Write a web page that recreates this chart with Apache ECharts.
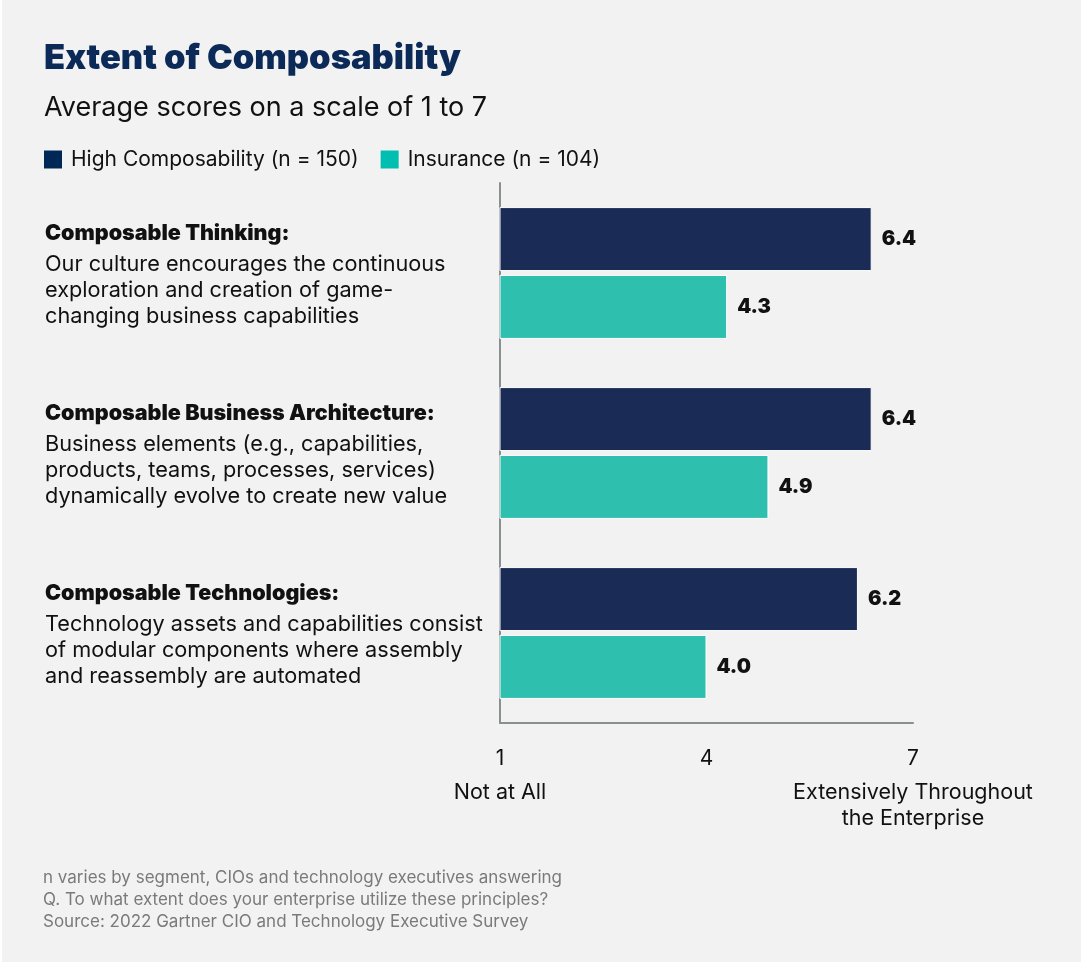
<!DOCTYPE html>
<html>
<head>
<meta charset="utf-8">
<script src="https://cdn.jsdelivr.net/npm/echarts@6/dist/echarts.min.js"></script>
<style>
  html, body { margin: 0; padding: 0; background: #ffffff; }
  #chart { position: absolute; left: 2px; top: 0; width: 1079px; height: 962px; background: #f2f2f2; }
</style>
</head>
<body>
<div id="chart"></div>
<script>
// Principles (category headings and their descriptions)
const headings = [
  'Composable Thinking:',
  'Composable Business Architecture:',
  'Composable Technologies:'
];
const descriptions = [
  ['Our culture encourages the continuous', 'exploration and creation of game-', 'changing business capabilities'],
  ['Business elements (e.g., capabilities,', 'products, teams, processes, services)', 'dynamically evolve to create new value'],
  ['Technology assets and capabilities consist', 'of modular components where assembly', 'and reassembly are automated']
];

// Average scores (1–7 scale)
const seriesNames = ['High Composability (n = 150)', 'Insurance (n = 104)'];
const highComposability = [6.4, 6.4, 6.2];
const insurance = [4.3, 4.9, 4.0];

// Scale ticks and their anchor descriptions
const tickValues = [1, 4, 7];
const tickNotes = { 1: ['Not at All'], 4: [], 7: ['Extensively Throughout', 'the Enterprise'] };

const footnotes = [
  'n varies by segment, CIOs and technology executives answering',
  'Q. To what extent does your enterprise utilize these principles?',
  'Source: 2022 Gartner CIO and Technology Executive Survey'
];

const FONT = 'Inter, "Noto Sans", sans-serif';
const NAVY = '#1a2b55';
const TEAL = '#2fbfae';

const chart = echarts.init(document.getElementById('chart'));

chart.setOption({
  backgroundColor: '#f2f2f2',
  textStyle: { fontFamily: FONT },
  title: [
    {
      text: 'Extent of Composability',
      left: 37, top: 36,
      textStyle: { fontFamily: FONT, fontSize: 34.5, fontWeight: 900, color: '#0c2a58' }
    },
    {
      text: 'Average scores on a scale of 1 to 7',
      left: 37, top: 89,
      textStyle: { fontFamily: FONT, fontSize: 27, fontWeight: 400, color: '#111111' }
    },
    {
      text: footnotes.join('\n'),
      left: 36, top: 862,
      textStyle: { fontFamily: FONT, fontSize: 17, fontWeight: 400, color: '#7a7a7a', lineHeight: 22 }
    }
  ],
  legend: {
    left: 37, top: 144,
    icon: 'rect',
    itemWidth: 18, itemHeight: 18,
    itemGap: 22,
    textStyle: { fontFamily: FONT, fontSize: 21, color: '#111111', padding: [0, 0, 0, 4] },
    data: [
      { name: seriesNames[0], itemStyle: { color: '#002856', borderWidth: 0 } },
      { name: seriesNames[1], itemStyle: { color: '#00bfb0', borderWidth: 0 } }
    ]
  },
  grid: { left: 498, right: 168, top: 183, bottom: 239 },
  xAxis: {
    type: 'value',
    min: 1, max: 7, interval: 3,
    splitLine: { show: false },
    axisTick: { show: false },
    axisLine: { show: true, lineStyle: { color: '#8a8f8f', width: 2 } },
    axisLabel: {
      margin: 15,
      formatter: function (v) {
        const notes = tickNotes[v] || [];
        return ['{n|' + v + '}'].concat(notes.map(s => '{d|' + s + '}')).join('\n');
      },
      rich: {
        n: { fontFamily: FONT, fontSize: 21, color: '#111111', lineHeight: 42, align: 'center' },
        d: { fontFamily: FONT, fontSize: 21.5, color: '#111111', lineHeight: 26, align: 'center' }
      }
    }
  },
  yAxis: {
    type: 'category',
    inverse: true,
    data: headings,
    axisTick: { show: false },
    axisLine: { show: true, lineStyle: { color: '#8a8f8f', width: 2 } },
    axisLabel: {
      align: 'left',
      margin: 455,
      formatter: function (h, i) {
        return ['{h|' + h + '}'].concat(descriptions[i].map(s => '{d|' + s + '}')).join('\n');
      },
      rich: {
        h: { fontFamily: FONT, fontSize: 21.5, fontWeight: 900, color: '#111111', lineHeight: 34 },
        d: { fontFamily: FONT, fontSize: 21.7, fontWeight: 400, color: '#111111', lineHeight: 26 }
      }
    }
  },
  series: [
    {
      name: seriesNames[0],
      type: 'bar',
      data: highComposability,
      barWidth: 64,
      barGap: '6%',
      itemStyle: { color: NAVY, borderColor: '#ffffff', borderWidth: 1 },
      label: {
        show: true, position: 'right', distance: 10,
        formatter: p => p.value.toFixed(1),
        fontFamily: FONT, fontSize: 20, fontWeight: 900, color: '#111111'
      }
    },
    {
      name: seriesNames[1],
      type: 'bar',
      data: insurance,
      barWidth: 64,
      barGap: '6%',
      itemStyle: { color: TEAL, borderColor: '#ffffff', borderWidth: 1 },
      label: {
        show: true, position: 'right', distance: 10,
        formatter: p => p.value.toFixed(1),
        fontFamily: FONT, fontSize: 20, fontWeight: 900, color: '#111111'
      }
    }
  ]
});
</script>
</body>
</html>
